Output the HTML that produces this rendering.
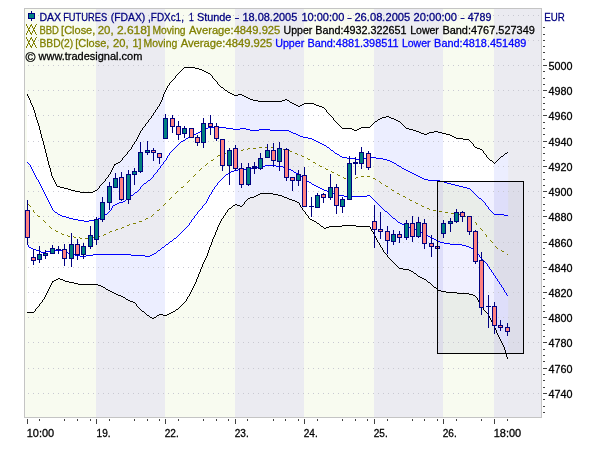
<!DOCTYPE html>
<html lang="de"><head><meta charset="utf-8"><title>DAX FUTURES (FDAX) - tradesignal</title>
<style>html,body{margin:0;padding:0;background:#fff;}body{width:600px;height:450px;overflow:hidden;}svg{display:block;}text{font-family:"Liberation Sans",sans-serif;font-size:11px;stroke-width:0.28px;}</style>
</head><body>
<svg width="600" height="450" viewBox="0 0 600 450">
<rect x="0" y="0" width="600" height="450" fill="#fff"/>
<defs>
<clipPath id="ring"><path d="M27.0 94.0 L33.6 108.0 L38.0 124.0 L42.0 139.0 L44.2 146.0 L49.6 166.0 L52.6 177.0 L57.5 186.0 L66.0 188.0 L72.0 190.4 L82.0 192.4 L91.0 192.4 L96.0 190.0 L103.3 182.7 L110.0 173.3 L114.7 164.7 L120.7 161.3 L124.7 156.7 L130.0 149.3 L135.3 141.3 L141.3 130.7 L150.0 118.0 L160.0 103.0 L165.0 90.0 L170.0 82.0 L180.0 71.0 L184.4 67.6 L192.0 67.6 L200.0 69.6 L210.0 74.4 L220.0 86.0 L228.0 92.4 L234.6 95.0 L240.0 94.4 L244.0 96.0 L248.0 98.6 L254.0 100.0 L260.0 101.0 L280.0 101.0 L286.0 99.4 L292.0 103.0 L298.0 106.4 L304.0 103.4 L312.0 103.4 L317.0 105.0 L323.0 107.0 L330.0 115.0 L336.0 122.0 L342.0 128.0 L350.0 128.4 L355.0 130.4 L361.0 127.6 L369.0 127.0 L374.0 122.4 L380.0 118.4 L387.0 116.4 L392.0 118.4 L400.0 122.0 L406.0 128.0 L414.0 130.0 L425.0 134.4 L430.0 132.4 L436.0 131.0 L443.0 133.6 L448.0 134.4 L456.0 138.0 L468.0 139.6 L471.0 142.0 L475.0 147.6 L481.0 149.0 L488.0 158.0 L494.0 163.0 L500.0 157.0 L507.0 152.0 L508.2 152.0 L508.2 358.4 L507.6 358.4 L504.0 348.0 L500.0 339.0 L496.0 331.0 L492.0 322.0 L488.0 314.0 L484.0 310.0 L480.0 304.0 L476.0 297.0 L472.0 294.4 L464.0 293.0 L448.0 292.0 L438.0 290.0 L432.0 285.0 L426.0 280.0 L420.0 277.0 L410.0 270.4 L406.0 269.0 L399.0 268.0 L390.0 259.0 L384.0 252.0 L378.0 242.4 L372.0 231.0 L369.0 226.4 L358.0 226.0 L352.0 225.6 L330.0 226.4 L324.0 228.0 L316.0 222.0 L310.0 219.0 L303.0 210.0 L298.0 202.0 L290.0 199.0 L280.0 195.0 L270.0 193.6 L260.0 193.6 L255.0 196.0 L248.0 198.0 L241.0 206.0 L235.0 204.4 L228.0 209.0 L220.0 221.0 L212.0 240.0 L207.0 254.0 L202.0 265.0 L196.0 280.0 L190.0 293.0 L185.0 301.6 L178.0 308.0 L172.0 312.4 L165.0 315.0 L159.0 314.4 L153.0 318.0 L150.0 317.0 L146.0 314.4 L139.0 308.0 L134.0 302.4 L128.0 300.0 L122.0 296.0 L116.0 294.4 L108.0 290.4 L102.0 286.0 L96.0 284.4 L80.0 284.0 L66.0 281.6 L58.0 278.4 L52.0 281.0 L44.0 298.0 L37.0 307.0 L33.0 312.4 L27.0 312.4Z M27.0 162.0 L29.0 164.5 L32.0 169.3 L37.3 179.3 L40.0 184.5 L51.0 207.0 L54.0 211.0 L60.0 215.0 L70.0 218.0 L80.0 220.6 L86.0 221.0 L96.0 219.0 L104.0 215.0 L108.0 212.0 L111.3 209.3 L113.3 205.5 L117.3 203.2 L120.0 202.7 L124.0 201.0 L130.0 196.5 L138.0 190.0 L143.3 184.7 L150.0 179.3 L156.7 172.7 L162.0 164.7 L165.0 160.0 L170.0 152.0 L180.0 142.0 L190.0 136.0 L200.0 131.0 L208.0 127.6 L220.0 127.0 L230.0 128.3 L235.3 129.3 L243.3 128.3 L252.7 130.0 L264.7 129.0 L274.0 130.4 L287.3 130.4 L294.0 133.3 L300.0 136.0 L310.0 138.6 L318.0 142.4 L326.0 146.0 L334.0 152.0 L342.0 157.6 L350.0 158.0 L358.0 159.0 L364.0 158.0 L370.0 157.4 L380.0 158.0 L388.0 160.0 L396.0 164.0 L404.0 169.0 L414.0 174.4 L424.0 179.0 L430.0 180.4 L438.0 180.6 L448.0 183.0 L460.0 186.0 L469.0 188.4 L476.0 195.0 L484.0 202.0 L489.0 209.0 L494.0 214.0 L500.0 214.4 L507.0 215.6 L508.2 215.6 L508.2 295.0 L507.0 295.0 L500.0 284.0 L492.0 272.0 L486.0 263.0 L480.0 257.0 L475.0 250.0 L470.0 247.0 L460.0 244.4 L452.0 244.0 L440.0 242.0 L432.0 238.0 L420.0 231.0 L410.0 227.0 L402.0 224.4 L398.0 222.0 L390.0 215.0 L382.0 208.0 L374.0 200.0 L369.0 195.0 L364.0 196.0 L358.0 196.4 L346.0 196.4 L340.0 195.0 L330.0 192.0 L322.0 189.0 L314.0 185.0 L306.0 180.0 L298.0 174.0 L288.0 168.0 L280.0 166.0 L270.0 165.4 L258.0 166.0 L254.0 168.0 L240.0 169.0 L231.0 171.6 L225.0 175.5 L220.0 180.0 L215.0 186.5 L210.0 194.5 L205.0 203.0 L200.0 209.5 L195.0 215.0 L188.0 225.0 L176.0 237.0 L165.0 245.0 L153.0 254.4 L148.0 256.0 L140.0 255.0 L120.0 254.0 L110.0 254.4 L96.0 254.6 L89.3 255.3 L82.7 256.5 L76.0 255.0 L68.0 253.5 L64.0 251.0 L60.0 250.0 L52.0 250.3 L48.0 251.3 L42.7 252.0 L37.3 250.8 L33.3 249.3 L29.3 247.0 L27.0 243.0Z" clip-rule="evenodd"/></clipPath>
<clipPath id="plot"><rect x="25" y="9" width="516" height="408"/></clipPath>
<clipPath id="box"><rect x="438" y="182" width="85" height="171"/></clipPath>
</defs>
<g shape-rendering="crispEdges">
<rect x="25" y="9" width="71" height="408" fill="#f8fbf0"/>
<rect x="96" y="9" width="69" height="408" fill="#ebebf1"/>
<rect x="165" y="9" width="70" height="408" fill="#f8fbf0"/>
<rect x="235" y="9" width="69" height="408" fill="#ebebf1"/>
<rect x="304" y="9" width="70" height="408" fill="#f8fbf0"/>
<rect x="374" y="9" width="69" height="408" fill="#ebebf1"/>
<rect x="443" y="9" width="51" height="408" fill="#f8fbf0"/>
<rect x="494" y="9" width="47" height="408" fill="#ebebf1"/>
</g>
<g clip-path="url(#ring)" shape-rendering="crispEdges">
<rect x="25" y="9" width="71" height="408" fill="#ffffff"/>
<rect x="96" y="9" width="69" height="408" fill="#eceeff"/>
<rect x="165" y="9" width="70" height="408" fill="#ffffff"/>
<rect x="235" y="9" width="69" height="408" fill="#eceeff"/>
<rect x="304" y="9" width="70" height="408" fill="#ffffff"/>
<rect x="374" y="9" width="69" height="408" fill="#eceeff"/>
<rect x="443" y="9" width="51" height="408" fill="#ffffff"/>
<rect x="494" y="9" width="47" height="408" fill="#eceeff"/>
</g>
<g clip-path="url(#box)" shape-rendering="crispEdges">
<rect x="25" y="9" width="71" height="408" fill="#e9ede9"/>
<rect x="96" y="9" width="69" height="408" fill="#dddde9"/>
<rect x="165" y="9" width="70" height="408" fill="#e9ede9"/>
<rect x="235" y="9" width="69" height="408" fill="#dddde9"/>
<rect x="304" y="9" width="70" height="408" fill="#e9ede9"/>
<rect x="374" y="9" width="69" height="408" fill="#dddde9"/>
<rect x="443" y="9" width="51" height="408" fill="#e9ede9"/>
<rect x="494" y="9" width="47" height="408" fill="#dddde9"/>
<g clip-path="url(#ring)">
<rect x="25" y="9" width="71" height="408" fill="#f0f0ff"/>
<rect x="96" y="9" width="69" height="408" fill="#dedefa"/>
<rect x="165" y="9" width="70" height="408" fill="#f0f0ff"/>
<rect x="235" y="9" width="69" height="408" fill="#dedefa"/>
<rect x="304" y="9" width="70" height="408" fill="#f0f0ff"/>
<rect x="374" y="9" width="69" height="408" fill="#dedefa"/>
<rect x="443" y="9" width="51" height="408" fill="#f0f0ff"/>
<rect x="494" y="9" width="47" height="408" fill="#dedefa"/>
</g></g>
<g stroke="#c9c9d2" stroke-width="1" stroke-dasharray="1 4" shape-rendering="crispEdges">
<line x1="28" y1="393.5" x2="541" y2="393.5"/>
<line x1="28" y1="368.5" x2="541" y2="368.5"/>
<line x1="28" y1="342.5" x2="541" y2="342.5"/>
<line x1="28" y1="317.5" x2="541" y2="317.5"/>
<line x1="28" y1="292.5" x2="541" y2="292.5"/>
<line x1="28" y1="267.5" x2="541" y2="267.5"/>
<line x1="28" y1="242.5" x2="541" y2="242.5"/>
<line x1="28" y1="216.5" x2="541" y2="216.5"/>
<line x1="28" y1="191.5" x2="541" y2="191.5"/>
<line x1="28" y1="166.5" x2="541" y2="166.5"/>
<line x1="28" y1="141.5" x2="541" y2="141.5"/>
<line x1="28" y1="115.5" x2="541" y2="115.5"/>
<line x1="28" y1="90.5" x2="541" y2="90.5"/>
<line x1="28" y1="65.5" x2="541" y2="65.5"/>
<line x1="28" y1="40.5" x2="541" y2="40.5"/>
<line x1="28" y1="15.5" x2="541" y2="15.5"/>
</g>
<g fill="none" stroke="#c4c4c4" shape-rendering="crispEdges"><rect x="24.5" y="8.5" width="517" height="409"/></g>
<g shape-rendering="crispEdges" stroke="none">
<path fill="#000" d="M378 119h2v1h-2zM394 119h2v1h-2zM292 103h2v1h-2zM304 103h10v1h-10zM354 130h3v1h-3zM413 130h3v1h-3zM116 163h2v1h-2zM80 192h13v1h-13zM64 188h4v1h-4zM490 160h2v1h-2zM250 99h3v1h-3zM285 99h2v1h-2zM375 121h2v1h-2zM398 121h2v1h-2zM342 128h10v1h-10zM359 128h2v1h-2zM406 128h3v1h-3zM294 104h2v1h-2zM302 104h2v1h-2zM314 104h2v1h-2zM232 94h2v1h-2zM238 94h4v1h-4zM452 136h2v1h-2zM456 138h7v1h-7zM419 132h2v1h-2zM429 132h5v1h-5zM438 132h4v1h-4zM184 67h11v1h-11zM118 162h2v1h-2zM75 191h5v1h-5zM93 191h2v1h-2zM463 139h6v1h-6zM195 68h4v1h-4zM361 127h9v1h-9zM68 189h3v1h-3zM416 131h3v1h-3zM434 131h4v1h-4zM253 100h5v1h-5zM282 100h3v1h-3zM287 100h2v1h-2zM501 156h2v1h-2zM352 129h2v1h-2zM357 129h2v1h-2zM409 129h4v1h-4zM71 190h4v1h-4zM95 190h2v1h-2zM234 95h4v1h-4zM242 95h2v1h-2zM380 118h2v1h-2zM391 118h3v1h-3zM258 101h24v1h-24zM206 72h2v1h-2zM230 93h2v1h-2zM290 102h2v1h-2zM424 134h3v1h-3zM446 134h4v1h-4zM199 69h3v1h-3zM114 164h2v1h-2zM450 135h2v1h-2zM386 116h3v1h-3zM296 105h2v1h-2zM300 105h2v1h-2zM316 105h3v1h-3zM202 70h2v1h-2zM421 133h3v1h-3zM427 133h2v1h-2zM442 133h4v1h-4zM225 90h2v1h-2zM298 106h2v1h-2zM319 106h3v1h-3zM477 148h3v1h-3zM204 71h2v1h-2zM454 137h2v1h-2zM382 117h4v1h-4zM389 117h2v1h-2zM208 73h2v1h-2zM480 149h2v1h-2zM244 96h2v1h-2zM322 107h2v1h-2zM60 187h4v1h-4zM57 186h3v1h-3zM475 147h2v1h-2zM246 97h2v1h-2zM248 98h2v1h-2zM228 92h2v1h-2zM396 120h2v1h-2zM505 153h2v1h-2zM221 87h2v1h-2zM404 126h1v1h-1zM46 153h1v4h-1zM164 92h1v2h-1zM50 168h1v4h-1zM36 117h1v3h-1zM149 119h1v1h-1zM485 154h1v1h-1zM52 176h1v2h-1zM105 179h1v2h-1zM107 177h1v1h-1zM33 107h1v3h-1zM108 175h1v2h-1zM330 115h1v1h-1zM35 113h1v4h-1zM159 104h1v2h-1zM324 108h1v1h-1zM48 161h1v4h-1zM405 127h1v1h-1zM372 124h1v1h-1zM42 138h1v3h-1zM145 124h1v2h-1zM146 123h1v1h-1zM125 155h1v1h-1zM103 182h1v1h-1zM401 123h1v1h-1zM155 110h1v2h-1zM157 107h1v2h-1zM106 178h1v1h-1zM137 137h1v2h-1zM160 102h1v2h-1zM40 130h1v4h-1zM158 106h1v1h-1zM44 145h1v4h-1zM370 126h1v1h-1zM162 97h1v3h-1zM121 160h1v1h-1zM142 128h1v2h-1zM123 157h1v1h-1zM134 142h1v2h-1zM482 150h1v1h-1zM45 149h1v4h-1zM29 98h1v2h-1zM474 146h1v1h-1zM171 81h1v1h-1zM214 79h1v1h-1zM31 103h1v2h-1zM120 161h1v1h-1zM492 161h1v1h-1zM41 134h1v4h-1zM43 141h1v4h-1zM167 86h1v2h-1zM169 83h1v2h-1zM170 82h1v1h-1zM493 162h1v1h-1zM469 140h1v1h-1zM486 155h1v2h-1zM113 166h1v2h-1zM99 186h1v2h-1zM483 151h1v2h-1zM138 135h1v2h-1zM140 131h1v2h-1zM49 165h1v3h-1zM215 80h1v1h-1zM129 150h1v1h-1zM152 115h1v1h-1zM150 118h1v1h-1zM132 145h1v2h-1zM130 149h1v1h-1zM153 113h1v2h-1zM131 147h1v2h-1zM110 172h1v2h-1zM55 182h1v2h-1zM216 81h1v1h-1zM487 157h1v1h-1zM210 74h1v1h-1zM37 120h1v3h-1zM148 120h1v2h-1zM128 151h1v1h-1zM151 116h1v2h-1zM212 76h1v2h-1zM166 88h1v2h-1zM38 123h1v3h-1zM109 174h1v1h-1zM124 156h1v1h-1zM176 75h1v1h-1zM127 152h1v2h-1zM27 94h1v2h-1zM34 110h1v3h-1zM53 178h1v2h-1zM136 139h1v2h-1zM30 100h1v3h-1zM165 90h1v2h-1zM325 109h1v1h-1zM217 82h1v2h-1zM122 158h1v2h-1zM175 76h1v2h-1zM182 69h1v1h-1zM213 78h1v1h-1zM223 88h1v1h-1zM28 96h1v2h-1zM39 126h1v4h-1zM163 94h1v3h-1zM473 144h1v2h-1zM56 184h1v2h-1zM326 110h1v2h-1zM100 185h1v1h-1zM32 105h1v2h-1zM51 172h1v4h-1zM112 168h1v2h-1zM114 165h1v1h-1zM374 122h1v1h-1zM224 89h1v1h-1zM329 114h1v1h-1zM470 141h1v1h-1zM47 157h1v4h-1zM54 180h1v2h-1zM139 133h1v2h-1zM144 126h1v1h-1zM336 122h1v1h-1zM154 112h1v1h-1zM500 157h1v1h-1zM289 101h1v1h-1zM498 159h1v1h-1zM488 158h1v1h-1zM499 158h1v1h-1zM504 154h1v1h-1zM111 170h1v2h-1zM471 142h1v1h-1zM183 68h1v1h-1zM211 75h1v1h-1zM402 124h1v1h-1zM489 159h1v1h-1zM472 143h1v1h-1zM161 100h1v2h-1zM181 70h1v1h-1zM333 118h1v2h-1zM339 125h1v1h-1zM334 120h1v1h-1zM335 121h1v1h-1zM373 123h1v1h-1zM126 154h1v1h-1zM179 72h1v1h-1zM147 122h1v1h-1zM340 126h1v1h-1zM141 130h1v1h-1zM143 127h1v1h-1zM177 74h1v1h-1zM377 120h1v1h-1zM400 122h1v1h-1zM174 78h1v1h-1zM218 84h1v1h-1zM133 144h1v1h-1zM135 141h1v1h-1zM156 109h1v1h-1zM341 127h1v1h-1zM104 181h1v1h-1zM173 79h1v1h-1zM219 85h1v1h-1zM371 125h1v1h-1zM337 123h1v1h-1zM331 116h1v1h-1zM503 155h1v1h-1zM102 183h1v1h-1zM172 80h1v1h-1zM327 112h1v1h-1zM332 117h1v1h-1zM98 188h1v1h-1zM507 152h1v1h-1zM101 184h1v1h-1zM168 85h1v1h-1zM496 161h1v1h-1zM497 160h1v1h-1zM328 113h1v1h-1zM220 86h1v1h-1zM338 124h1v1h-1zM403 125h1v1h-1zM97 189h1v1h-1zM484 153h1v1h-1zM495 162h1v1h-1zM227 91h1v1h-1zM180 71h1v1h-1zM494 163h1v1h-1zM178 73h1v1h-1z"/>
<path fill="#000" d="M114 293h2v1h-2zM457 293h12v1h-12zM56 279h2v1h-2zM60 279h3v1h-3zM424 279h2v1h-2zM159 314h4v1h-4zM167 314h2v1h-2zM229 208h2v1h-2zM342 225h14v1h-14zM418 276h2v1h-2zM106 289h2v1h-2zM116 294h2v1h-2zM469 294h4v1h-4zM256 195h2v1h-2zM278 195h4v1h-4zM52 281h2v1h-2zM65 281h4v1h-4zM27 312h7v1h-7zM171 312h2v1h-2zM142 311h2v1h-2zM173 311h2v1h-2zM118 295h3v1h-3zM473 295h2v1h-2zM147 315h2v1h-2zM157 315h2v1h-2zM163 315h4v1h-4zM150 317h2v1h-2zM154 317h2v1h-2zM240 206h2v1h-2zM78 284h20v1h-20zM321 226h2v1h-2zM329 226h13v1h-13zM356 226h14v1h-14zM103 287h2v1h-2zM434 287h2v1h-2zM130 301h3v1h-3zM403 269h6v1h-6zM133 302h2v1h-2zM110 291h2v1h-2zM441 291h5v1h-5zM112 292h2v1h-2zM446 292h11v1h-11zM260 193h13v1h-13zM54 280h2v1h-2zM63 280h2v1h-2zM409 270h2v1h-2zM310 219h2v1h-2zM250 197h4v1h-4zM284 197h3v1h-3zM297 202h2v1h-2zM399 268h4v1h-4zM326 227h3v1h-3zM312 220h2v1h-2zM58 278h2v1h-2zM422 278h2v1h-2zM98 285h3v1h-3zM101 286h2v1h-2zM314 221h2v1h-2zM258 194h2v1h-2zM273 194h5v1h-5zM233 205h2v1h-2zM237 205h3v1h-3zM69 282h5v1h-5zM428 282h2v1h-2zM108 290h2v1h-2zM438 290h3v1h-3zM411 271h2v1h-2zM126 299h2v1h-2zM289 199h3v1h-3zM254 196h2v1h-2zM282 196h2v1h-2zM235 204h2v1h-2zM123 297h2v1h-2zM176 309h2v1h-2zM169 313h2v1h-2zM248 198h2v1h-2zM287 198h2v1h-2zM121 296h2v1h-2zM74 283h4v1h-4zM292 200h3v1h-3zM414 273h2v1h-2zM152 318h2v1h-2zM324 228h2v1h-2zM295 201h2v1h-2zM317 223h2v1h-2zM128 300h2v1h-2zM420 277h2v1h-2zM300 205h1v2h-1zM208 250h1v3h-1zM202 264h1v3h-1zM489 316h1v2h-1zM475 296h1v1h-1zM197 277h1v2h-1zM141 310h1v1h-1zM483 308h1v2h-1zM201 267h1v2h-1zM372 231h1v1h-1zM207 253h1v3h-1zM135 303h1v1h-1zM494 326h1v2h-1zM49 287h1v2h-1zM373 232h1v2h-1zM506 354h1v3h-1zM476 297h1v1h-1zM496 330h1v3h-1zM417 275h1v1h-1zM216 230h1v2h-1zM436 288h1v1h-1zM211 242h1v3h-1zM217 227h1v3h-1zM302 208h1v2h-1zM498 335h1v2h-1zM136 304h1v2h-1zM505 350h1v4h-1zM223 216h1v2h-1zM388 257h1v1h-1zM156 316h1v1h-1zM188 296h1v1h-1zM200 269h1v3h-1zM195 282h1v2h-1zM437 289h1v1h-1zM492 322h1v2h-1zM187 297h1v2h-1zM189 294h1v2h-1zM426 280h1v1h-1zM485 311h1v1h-1zM209 247h1v3h-1zM499 337h1v2h-1zM320 225h1v1h-1zM45 295h1v2h-1zM486 312h1v1h-1zM51 283h1v2h-1zM50 285h1v2h-1zM52 282h1v1h-1zM377 240h1v2h-1zM215 232h1v3h-1zM503 345h1v2h-1zM210 245h1v2h-1zM219 223h1v2h-1zM395 264h1v1h-1zM307 215h1v1h-1zM481 305h1v2h-1zM374 234h1v2h-1zM231 207h1v1h-1zM205 258h1v2h-1zM193 286h1v2h-1zM199 272h1v2h-1zM391 260h1v1h-1zM490 318h1v2h-1zM370 227h1v2h-1zM309 218h1v1h-1zM385 253h1v1h-1zM382 248h1v2h-1zM497 333h1v2h-1zM185 301h1v1h-1zM387 255h1v2h-1zM375 236h1v2h-1zM501 341h1v2h-1zM212 239h1v3h-1zM198 274h1v3h-1zM213 237h1v2h-1zM392 261h1v1h-1zM504 347h1v3h-1zM144 312h1v1h-1zM386 254h1v1h-1zM41 302h1v1h-1zM42 300h1v2h-1zM479 302h1v2h-1zM44 297h1v2h-1zM488 314h1v2h-1zM48 289h1v2h-1zM371 229h1v2h-1zM301 207h1v1h-1zM145 313h1v1h-1zM484 310h1v1h-1zM38 306h1v1h-1zM40 303h1v1h-1zM39 304h1v2h-1zM247 199h1v1h-1zM495 328h1v2h-1zM196 279h1v3h-1zM190 292h1v2h-1zM203 262h1v2h-1zM507 357h1v2h-1zM393 262h1v1h-1zM398 267h1v1h-1zM34 311h1v1h-1zM36 308h1v1h-1zM227 210h1v2h-1zM225 213h1v2h-1zM305 212h1v2h-1zM37 307h1v1h-1zM394 263h1v1h-1zM380 245h1v2h-1zM245 201h1v1h-1zM46 293h1v2h-1zM246 200h1v1h-1zM389 258h1v1h-1zM383 250h1v2h-1zM306 214h1v1h-1zM221 219h1v2h-1zM146 314h1v1h-1zM224 215h1v1h-1zM35 309h1v2h-1zM493 324h1v2h-1zM242 205h1v1h-1zM244 202h1v2h-1zM47 291h1v2h-1zM384 252h1v1h-1zM376 238h1v2h-1zM430 283h1v1h-1zM431 284h1v1h-1zM186 299h1v2h-1zM502 343h1v2h-1zM204 260h1v2h-1zM206 256h1v2h-1zM477 298h1v2h-1zM413 272h1v1h-1zM432 285h1v1h-1zM396 265h1v1h-1zM299 203h1v2h-1zM308 216h1v2h-1zM482 307h1v1h-1zM220 221h1v2h-1zM214 235h1v2h-1zM500 339h1v2h-1zM192 288h1v2h-1zM194 284h1v2h-1zM43 299h1v1h-1zM303 210h1v1h-1zM478 300h1v2h-1zM184 302h1v1h-1zM433 286h1v1h-1zM397 266h1v1h-1zM316 222h1v1h-1zM125 298h1v1h-1zM491 320h1v2h-1zM182 304h1v1h-1zM323 227h1v1h-1zM218 225h1v2h-1zM379 243h1v2h-1zM105 288h1v1h-1zM191 290h1v2h-1zM139 308h1v1h-1zM140 309h1v1h-1zM416 274h1v1h-1zM480 304h1v1h-1zM137 306h1v1h-1zM183 303h1v1h-1zM319 224h1v1h-1zM222 218h1v1h-1zM304 211h1v1h-1zM243 204h1v1h-1zM181 305h1v1h-1zM149 316h1v1h-1zM138 307h1v1h-1zM427 281h1v1h-1zM226 212h1v1h-1zM228 209h1v1h-1zM381 247h1v1h-1zM390 259h1v1h-1zM175 310h1v1h-1zM180 306h1v1h-1zM378 242h1v1h-1zM232 206h1v1h-1zM178 308h1v1h-1zM179 307h1v1h-1zM487 313h1v1h-1z"/>
<path fill="#0000ff" d="M60 215h2v1h-2zM504 215h4v1h-4zM459 186h4v1h-4zM451 184h4v1h-4zM202 130h2v1h-2zM250 130h9v1h-9zM270 130h19v1h-19zM55 212h2v1h-2zM204 129h2v1h-2zM233 129h7v1h-7zM246 129h4v1h-4zM259 129h11v1h-11zM73 219h5v1h-5zM94 219h4v1h-4zM347 158h8v1h-8zM362 158h6v1h-6zM376 158h7v1h-7zM455 185h4v1h-4zM84 221h5v1h-5zM424 179h4v1h-4zM416 175h2v1h-2zM188 137h2v1h-2zM303 137h5v1h-5zM420 177h2v1h-2zM135 192h2v1h-2zM412 173h2v1h-2zM208 127h18v1h-18zM422 178h2v1h-2zM312 139h2v1h-2zM206 128h2v1h-2zM226 128h7v1h-7zM240 128h6v1h-6zM66 217h3v1h-3zM100 217h2v1h-2zM183 140h2v1h-2zM314 140h2v1h-2zM131 195h2v1h-2zM78 220h6v1h-6zM89 220h5v1h-5zM410 172h2v1h-2zM123 201h2v1h-2zM58 214h2v1h-2zM105 214h2v1h-2zM494 214h10v1h-10zM119 202h4v1h-4zM186 138h2v1h-2zM308 138h4v1h-4zM355 159h7v1h-7zM383 159h4v1h-4zM414 174h2v1h-2zM148 180h2v1h-2zM428 180h12v1h-12zM144 183h2v1h-2zM447 183h4v1h-4zM340 156h2v1h-2zM418 176h2v1h-2zM181 141h2v1h-2zM316 141h2v1h-2zM322 144h2v1h-2zM387 160h3v1h-3zM404 169h2v1h-2zM397 165h2v1h-2zM324 145h2v1h-2zM399 166h2v1h-2zM406 170h2v1h-2zM440 181h4v1h-4zM463 187h4v1h-4zM335 153h2v1h-2zM318 142h2v1h-2zM62 216h4v1h-4zM102 216h2v1h-2zM444 182h3v1h-3zM320 143h2v1h-2zM467 188h3v1h-3zM479 198h2v1h-2zM342 157h5v1h-5zM368 157h8v1h-8zM394 163h2v1h-2zM113 205h2v1h-2zM69 218h4v1h-4zM98 218h2v1h-2zM200 131h2v1h-2zM289 131h2v1h-2zM192 135h2v1h-2zM298 135h2v1h-2zM126 199h2v1h-2zM392 162h2v1h-2zM196 133h2v1h-2zM293 133h3v1h-3zM331 150h2v1h-2zM198 132h2v1h-2zM291 132h2v1h-2zM402 168h2v1h-2zM117 203h2v1h-2zM190 136h2v1h-2zM300 136h3v1h-3zM194 134h2v1h-2zM296 134h2v1h-2zM327 147h2v1h-2zM390 161h2v1h-2zM408 171h2v1h-2zM115 204h2v1h-2zM337 154h2v1h-2zM493 213h1v1h-1zM487 206h1v1h-1zM104 215h1v1h-1zM41 186h1v2h-1zM47 198h1v2h-1zM488 207h1v2h-1zM38 180h1v2h-1zM108 212h1v1h-1zM157 170h1v2h-1zM48 200h1v2h-1zM160 166h1v2h-1zM167 156h1v2h-1zM169 153h1v2h-1zM172 150h1v1h-1zM45 194h1v2h-1zM156 172h1v1h-1zM166 158h1v2h-1zM31 167h1v2h-1zM168 155h1v1h-1zM46 196h1v2h-1zM52 208h1v2h-1zM152 177h1v1h-1zM141 186h1v1h-1zM142 185h1v1h-1zM53 210h1v1h-1zM42 188h1v2h-1zM329 148h1v1h-1zM140 187h1v2h-1zM29 164h1v1h-1zM146 182h1v1h-1zM473 192h1v1h-1zM43 190h1v2h-1zM176 146h1v1h-1zM112 206h1v2h-1zM330 149h1v1h-1zM49 202h1v2h-1zM36 177h1v2h-1zM185 139h1v1h-1zM482 200h1v1h-1zM174 148h1v1h-1zM54 211h1v1h-1zM175 147h1v1h-1zM109 211h1v1h-1zM111 208h1v2h-1zM40 184h1v2h-1zM173 149h1v1h-1zM107 213h1v1h-1zM34 173h1v2h-1zM37 179h1v1h-1zM33 171h1v2h-1zM483 201h1v1h-1zM125 200h1v1h-1zM471 190h1v1h-1zM51 206h1v2h-1zM44 192h1v2h-1zM484 202h1v1h-1zM158 169h1v1h-1zM477 196h1v1h-1zM30 165h1v2h-1zM170 152h1v1h-1zM154 174h1v1h-1zM32 169h1v2h-1zM339 155h1v1h-1zM150 179h1v1h-1zM153 175h1v2h-1zM39 182h1v2h-1zM485 203h1v2h-1zM478 197h1v1h-1zM333 151h1v1h-1zM396 164h1v1h-1zM474 193h1v1h-1zM35 175h1v2h-1zM470 189h1v1h-1zM50 204h1v2h-1zM490 210h1v1h-1zM162 164h1v1h-1zM164 161h1v1h-1zM163 162h1v2h-1zM165 160h1v1h-1zM491 211h1v1h-1zM475 194h1v1h-1zM159 168h1v1h-1zM161 165h1v1h-1zM130 196h1v1h-1zM129 197h1v1h-1zM171 151h1v1h-1zM476 195h1v1h-1zM179 143h1v1h-1zM139 189h1v1h-1zM155 173h1v1h-1zM128 198h1v1h-1zM472 191h1v1h-1zM134 193h1v1h-1zM492 212h1v1h-1zM177 145h1v1h-1zM401 167h1v1h-1zM326 146h1v1h-1zM57 213h1v1h-1zM489 209h1v1h-1zM334 152h1v1h-1zM27 162h1v1h-1zM143 184h1v1h-1zM180 142h1v1h-1zM147 181h1v1h-1zM28 163h1v1h-1zM178 144h1v1h-1zM486 205h1v1h-1zM151 178h1v1h-1zM133 194h1v1h-1zM138 190h1v1h-1zM110 210h1v1h-1zM481 199h1v1h-1zM137 191h1v1h-1z"/>
<path fill="#0000ff" d="M71 254h4v1h-4zM93 254h38v1h-38zM152 254h2v1h-2zM75 255h5v1h-5zM86 255h7v1h-7zM131 255h14v1h-14zM150 255h2v1h-2zM414 229h3v1h-3zM166 244h2v1h-2zM450 244h12v1h-12zM344 196h23v1h-23zM29 247h2v1h-2zM162 247h2v1h-2zM469 247h2v1h-2zM41 252h5v1h-5zM66 252h2v1h-2zM248 168h8v1h-8zM287 168h2v1h-2zM407 226h2v1h-2zM31 248h2v1h-2zM471 248h2v1h-2zM36 250h3v1h-3zM51 250h12v1h-12zM158 250h2v1h-2zM226 174h2v1h-2zM33 249h3v1h-3zM473 249h2v1h-2zM299 175h2v1h-2zM409 227h3v1h-3zM39 251h2v1h-2zM46 251h5v1h-5zM63 251h3v1h-3zM425 234h2v1h-2zM258 166h7v1h-7zM276 166h7v1h-7zM329 192h3v1h-3zM80 256h6v1h-6zM145 256h5v1h-5zM421 232h2v1h-2zM170 241h2v1h-2zM438 241h2v1h-2zM339 195h5v1h-5zM367 195h3v1h-3zM238 169h10v1h-10zM289 169h2v1h-2zM174 238h2v1h-2zM432 238h2v1h-2zM324 190h3v1h-3zM256 167h2v1h-2zM283 167h4v1h-4zM417 230h2v1h-2zM444 243h6v1h-6zM303 178h2v1h-2zM398 222h2v1h-2zM320 188h2v1h-2zM234 170h4v1h-4zM291 170h2v1h-2zM419 231h2v1h-2zM229 172h2v1h-2zM294 172h2v1h-2zM466 246h3v1h-3zM332 193h4v1h-4zM385 211h2v1h-2zM336 194h3v1h-3zM312 184h2v1h-2zM327 191h2v1h-2zM462 245h4v1h-4zM318 187h2v1h-2zM265 165h11v1h-11zM402 224h2v1h-2zM440 242h4v1h-4zM307 181h2v1h-2zM309 182h2v1h-2zM434 239h2v1h-2zM68 253h3v1h-3zM154 253h2v1h-2zM436 240h2v1h-2zM428 236h2v1h-2zM400 223h2v1h-2zM404 225h3v1h-3zM231 171h3v1h-3zM423 233h2v1h-2zM412 228h2v1h-2zM296 173h2v1h-2zM314 185h2v1h-2zM393 218h2v1h-2zM322 189h2v1h-2zM316 186h2v1h-2zM430 237h2v1h-2zM475 250h1v1h-1zM207 199h1v2h-1zM156 252h1v1h-1zM217 183h1v2h-1zM298 174h1v1h-1zM495 276h1v2h-1zM503 288h1v2h-1zM27 243h1v2h-1zM160 249h1v1h-1zM506 293h1v2h-1zM481 258h1v1h-1zM188 225h1v1h-1zM191 220h1v2h-1zM499 282h1v2h-1zM306 180h1v1h-1zM501 285h1v2h-1zM487 264h1v2h-1zM186 227h1v1h-1zM396 220h1v1h-1zM187 226h1v1h-1zM189 223h1v2h-1zM504 290h1v2h-1zM28 245h1v2h-1zM488 266h1v1h-1zM185 228h1v1h-1zM209 195h1v2h-1zM211 192h1v2h-1zM493 273h1v2h-1zM397 221h1v1h-1zM390 215h1v1h-1zM176 237h1v1h-1zM157 251h1v1h-1zM479 255h1v2h-1zM225 175h1v1h-1zM497 279h1v2h-1zM374 200h1v1h-1zM476 251h1v2h-1zM498 281h1v1h-1zM161 248h1v1h-1zM197 212h1v2h-1zM224 176h1v1h-1zM370 196h1v1h-1zM387 212h1v1h-1zM208 197h1v2h-1zM311 183h1v1h-1zM193 218h1v1h-1zM194 216h1v2h-1zM222 178h1v1h-1zM165 245h1v1h-1zM480 257h1v1h-1zM502 287h1v1h-1zM305 179h1v1h-1zM190 222h1v1h-1zM486 263h1v1h-1zM507 295h1v1h-1zM371 197h1v1h-1zM388 213h1v1h-1zM381 207h1v1h-1zM482 259h1v1h-1zM212 190h1v2h-1zM214 187h1v2h-1zM491 270h1v2h-1zM377 203h1v1h-1zM372 198h1v1h-1zM389 214h1v1h-1zM206 201h1v2h-1zM477 253h1v1h-1zM373 199h1v1h-1zM202 206h1v2h-1zM489 267h1v2h-1zM483 260h1v1h-1zM492 272h1v1h-1zM183 230h1v1h-1zM378 204h1v1h-1zM184 229h1v1h-1zM484 261h1v1h-1zM478 254h1v1h-1zM391 216h1v1h-1zM181 232h1v1h-1zM182 231h1v1h-1zM379 205h1v1h-1zM223 177h1v1h-1zM302 177h1v1h-1zM228 173h1v1h-1zM375 201h1v1h-1zM392 217h1v1h-1zM164 246h1v1h-1zM169 242h1v1h-1zM196 214h1v1h-1zM198 211h1v1h-1zM485 262h1v1h-1zM210 194h1v1h-1zM168 243h1v1h-1zM192 219h1v1h-1zM220 180h1v1h-1zM376 202h1v1h-1zM172 240h1v1h-1zM490 269h1v1h-1zM382 208h1v1h-1zM218 182h1v1h-1zM216 185h1v1h-1zM213 189h1v1h-1zM215 186h1v1h-1zM494 275h1v1h-1zM204 204h1v1h-1zM205 203h1v1h-1zM496 278h1v1h-1zM383 209h1v1h-1zM200 209h1v1h-1zM201 208h1v1h-1zM301 176h1v1h-1zM203 205h1v1h-1zM500 284h1v1h-1zM384 210h1v1h-1zM395 219h1v1h-1zM199 210h1v1h-1zM293 171h1v1h-1zM380 206h1v1h-1zM505 292h1v1h-1zM427 235h1v1h-1zM180 233h1v1h-1zM195 215h1v1h-1zM221 179h1v1h-1zM173 239h1v1h-1zM178 235h1v1h-1zM179 234h1v1h-1zM219 181h1v1h-1zM177 236h1v1h-1z"/>
<path fill="#808000" d="M392 190h2v1h-2zM397 193h2v1h-2zM344 178h2v1h-2zM349 178h3v1h-3zM373 178h2v1h-2zM116 229h2v1h-2zM146 218h2v1h-2zM38 216h2v1h-2zM464 216h2v1h-2zM302 156h2v1h-2zM361 176h3v1h-3zM367 176h3v1h-3zM439 211h3v1h-3zM68 236h2v1h-2zM98 236h2v1h-2zM308 159h2v1h-2zM223 153h3v1h-3zM295 153h2v1h-2zM218 155h2v1h-2zM283 149h3v1h-3zM502 251h2v1h-2zM386 186h2v1h-2zM139 221h3v1h-3zM259 147h3v1h-3zM265 147h3v1h-3zM271 147h3v1h-3zM157 210h2v1h-2zM433 210h3v1h-3zM56 231h2v1h-2zM110 231h2v1h-2zM445 212h3v1h-3zM74 237h2v1h-2zM92 237h2v1h-2zM122 227h2v1h-2zM410 200h2v1h-2zM248 148h2v1h-2zM253 148h3v1h-3zM277 148h3v1h-3zM457 214h3v1h-3zM403 196h2v1h-2zM451 213h3v1h-3zM181 187h2v1h-2zM332 172h2v1h-2zM427 208h2v1h-2zM236 150h2v1h-2zM241 150h2v1h-2zM133 223h3v1h-3zM80 238h2v1h-2zM85 238h3v1h-3zM127 225h2v1h-2zM62 234h2v1h-2zM104 234h2v1h-2zM229 151h3v1h-3zM290 151h2v1h-2zM470 219h2v1h-2zM211 160h2v1h-2zM326 169h2v1h-2zM356 177h2v1h-2zM416 203h2v1h-2zM338 175h2v1h-2zM320 166h2v1h-2zM313 162h2v1h-2zM422 206h2v1h-2zM480 228h1v1h-1zM43 220h1v1h-1zM175 193h1v1h-1zM481 229h1v1h-1zM476 223h1v2h-1zM469 218h1v1h-1zM217 156h1v1h-1zM495 246h1v1h-1zM207 163h1v1h-1zM28 204h1v1h-1zM385 185h1v1h-1zM73 236h1v1h-1zM379 181h1v1h-1zM482 230h1v1h-1zM109 232h1v1h-1zM301 155h1v1h-1zM67 235h1v1h-1zM206 164h1v1h-1zM29 205h1v1h-1zM44 221h1v1h-1zM307 158h1v1h-1zM45 222h1v1h-1zM163 205h1v1h-1zM375 179h1v1h-1zM51 228h1v1h-1zM247 149h1v1h-1zM121 228h1v1h-1zM507 254h1v1h-1zM153 214h1v1h-1zM391 189h1v1h-1zM355 178h1v1h-1zM289 150h1v1h-1zM475 222h1v1h-1zM151 216h1v1h-1zM55 230h1v1h-1zM429 209h1v1h-1zM421 205h1v1h-1zM235 151h1v1h-1zM496 247h1v1h-1zM490 240h1v1h-1zM380 182h1v1h-1zM200 169h1v1h-1zM201 168h1v1h-1zM171 197h1v1h-1zM49 226h1v1h-1zM486 235h1v2h-1zM37 215h1v1h-1zM337 174h1v1h-1zM199 170h1v1h-1zM169 199h1v1h-1zM33 210h1v2h-1zM50 227h1v1h-1zM170 198h1v1h-1zM205 165h1v1h-1zM497 248h1v1h-1zM409 199h1v1h-1zM492 242h1v1h-1zM188 181h1v1h-1zM325 168h1v1h-1zM159 209h1v1h-1zM145 219h1v1h-1zM501 250h1v1h-1zM152 215h1v1h-1zM115 230h1v1h-1zM187 182h1v1h-1zM405 197h1v1h-1zM297 154h1v1h-1zM491 241h1v1h-1zM319 165h1v1h-1zM177 191h1v1h-1zM103 235h1v1h-1zM34 212h1v1h-1zM415 202h1v1h-1zM213 159h1v1h-1zM195 174h1v1h-1zM315 163h1v1h-1zM79 237h1v1h-1zM193 176h1v1h-1zM194 175h1v1h-1zM164 204h1v1h-1zM165 203h1v1h-1zM331 171h1v1h-1zM91 238h1v1h-1zM243 149h1v1h-1zM30 206h1v1h-1zM381 183h1v1h-1zM183 186h1v1h-1zM129 224h1v1h-1zM61 233h1v1h-1zM485 234h1v1h-1zM399 194h1v1h-1zM189 180h1v1h-1zM176 192h1v1h-1zM463 215h1v1h-1zM97 237h1v1h-1zM343 177h1v1h-1z"/>
</g>
<g shape-rendering="crispEdges">
<rect x="27" y="200" width="1" height="45" fill="#000080"/>
<rect x="25" y="210" width="5" height="28" fill="#000080"/>
<rect x="26" y="211" width="3" height="26" fill="#ff8080"/>
<rect x="33" y="249" width="1" height="16" fill="#000080"/>
<rect x="31" y="257" width="5" height="4" fill="#000080"/>
<rect x="32" y="258" width="3" height="2" fill="#ff8080"/>
<rect x="39" y="246" width="1" height="17" fill="#000080"/>
<rect x="37" y="254" width="5" height="6" fill="#000080"/>
<rect x="38" y="255" width="3" height="4" fill="#008080"/>
<rect x="45" y="250" width="1" height="9" fill="#000080"/>
<rect x="43" y="253" width="5" height="3" fill="#000080"/>
<rect x="44" y="254" width="3" height="1" fill="#008080"/>
<rect x="52" y="245" width="1" height="9" fill="#000080"/>
<rect x="50" y="248" width="5" height="6" fill="#000080"/>
<rect x="51" y="249" width="3" height="4" fill="#008080"/>
<rect x="58" y="246" width="1" height="8" fill="#000080"/>
<rect x="56" y="249" width="5" height="1" fill="#000080"/>
<rect x="64" y="244" width="1" height="22" fill="#000080"/>
<rect x="62" y="249" width="5" height="10" fill="#000080"/>
<rect x="63" y="250" width="3" height="8" fill="#ff8080"/>
<rect x="71" y="233" width="1" height="34" fill="#000080"/>
<rect x="69" y="244" width="5" height="15" fill="#000080"/>
<rect x="70" y="245" width="3" height="13" fill="#008080"/>
<rect x="77" y="239" width="1" height="21" fill="#000080"/>
<rect x="75" y="244" width="5" height="11" fill="#000080"/>
<rect x="76" y="245" width="3" height="9" fill="#ff8080"/>
<rect x="83" y="243" width="1" height="16" fill="#000080"/>
<rect x="81" y="246" width="5" height="9" fill="#000080"/>
<rect x="82" y="247" width="3" height="7" fill="#008080"/>
<rect x="90" y="226" width="1" height="23" fill="#000080"/>
<rect x="88" y="235" width="5" height="12" fill="#000080"/>
<rect x="89" y="236" width="3" height="10" fill="#008080"/>
<rect x="96" y="217" width="1" height="28" fill="#000080"/>
<rect x="94" y="219" width="5" height="21" fill="#000080"/>
<rect x="95" y="220" width="3" height="19" fill="#008080"/>
<rect x="102" y="197" width="1" height="25" fill="#000080"/>
<rect x="100" y="202" width="5" height="18" fill="#000080"/>
<rect x="101" y="203" width="3" height="16" fill="#008080"/>
<rect x="109" y="182" width="1" height="28" fill="#000080"/>
<rect x="107" y="186" width="5" height="17" fill="#000080"/>
<rect x="108" y="187" width="3" height="15" fill="#008080"/>
<rect x="115" y="173" width="1" height="15" fill="#000080"/>
<rect x="113" y="178" width="5" height="10" fill="#000080"/>
<rect x="114" y="179" width="3" height="8" fill="#008080"/>
<rect x="121" y="172" width="1" height="29" fill="#000080"/>
<rect x="119" y="177" width="5" height="23" fill="#000080"/>
<rect x="120" y="178" width="3" height="21" fill="#ff8080"/>
<rect x="128" y="170" width="1" height="34" fill="#000080"/>
<rect x="126" y="174" width="5" height="26" fill="#000080"/>
<rect x="127" y="175" width="3" height="24" fill="#008080"/>
<rect x="134" y="168" width="1" height="17" fill="#000080"/>
<rect x="132" y="171" width="5" height="4" fill="#000080"/>
<rect x="133" y="172" width="3" height="2" fill="#008080"/>
<rect x="140" y="142" width="1" height="31" fill="#000080"/>
<rect x="138" y="152" width="5" height="20" fill="#000080"/>
<rect x="139" y="153" width="3" height="18" fill="#008080"/>
<rect x="147" y="141" width="1" height="14" fill="#000080"/>
<rect x="145" y="150" width="5" height="3" fill="#000080"/>
<rect x="146" y="151" width="3" height="1" fill="#008080"/>
<rect x="153" y="148" width="1" height="13" fill="#000080"/>
<rect x="151" y="150" width="5" height="3" fill="#000080"/>
<rect x="152" y="151" width="3" height="1" fill="#ff8080"/>
<rect x="159" y="153" width="1" height="11" fill="#000080"/>
<rect x="157" y="153" width="5" height="5" fill="#000080"/>
<rect x="158" y="154" width="3" height="3" fill="#ff8080"/>
<rect x="165" y="114" width="1" height="25" fill="#000080"/>
<rect x="163" y="118" width="5" height="21" fill="#000080"/>
<rect x="164" y="119" width="3" height="19" fill="#008080"/>
<rect x="172" y="115" width="1" height="18" fill="#000080"/>
<rect x="170" y="118" width="5" height="9" fill="#000080"/>
<rect x="171" y="119" width="3" height="7" fill="#ff8080"/>
<rect x="178" y="121" width="1" height="19" fill="#000080"/>
<rect x="176" y="126" width="5" height="9" fill="#000080"/>
<rect x="177" y="127" width="3" height="7" fill="#ff8080"/>
<rect x="184" y="126" width="1" height="12" fill="#000080"/>
<rect x="182" y="128" width="5" height="6" fill="#000080"/>
<rect x="183" y="129" width="3" height="4" fill="#008080"/>
<rect x="191" y="128" width="1" height="10" fill="#000080"/>
<rect x="189" y="128" width="5" height="10" fill="#000080"/>
<rect x="190" y="129" width="3" height="8" fill="#ff8080"/>
<rect x="197" y="135" width="1" height="11" fill="#000080"/>
<rect x="195" y="137" width="5" height="6" fill="#000080"/>
<rect x="196" y="138" width="3" height="4" fill="#ff8080"/>
<rect x="203" y="118" width="1" height="30" fill="#000080"/>
<rect x="201" y="123" width="5" height="20" fill="#000080"/>
<rect x="202" y="124" width="3" height="18" fill="#008080"/>
<rect x="210" y="115" width="1" height="20" fill="#000080"/>
<rect x="208" y="123" width="5" height="4" fill="#000080"/>
<rect x="209" y="124" width="3" height="2" fill="#ff8080"/>
<rect x="216" y="123" width="1" height="18" fill="#000080"/>
<rect x="214" y="126" width="5" height="13" fill="#000080"/>
<rect x="215" y="127" width="3" height="11" fill="#ff8080"/>
<rect x="222" y="139" width="1" height="32" fill="#000080"/>
<rect x="220" y="139" width="5" height="27" fill="#000080"/>
<rect x="221" y="140" width="3" height="25" fill="#ff8080"/>
<rect x="229" y="148" width="1" height="37" fill="#000080"/>
<rect x="227" y="150" width="5" height="16" fill="#000080"/>
<rect x="228" y="151" width="3" height="14" fill="#008080"/>
<rect x="235" y="145" width="1" height="26" fill="#000080"/>
<rect x="233" y="148" width="5" height="21" fill="#000080"/>
<rect x="234" y="149" width="3" height="19" fill="#ff8080"/>
<rect x="241" y="163" width="1" height="25" fill="#000080"/>
<rect x="239" y="168" width="5" height="17" fill="#000080"/>
<rect x="240" y="169" width="3" height="15" fill="#ff8080"/>
<rect x="248" y="163" width="1" height="23" fill="#000080"/>
<rect x="246" y="167" width="5" height="18" fill="#000080"/>
<rect x="247" y="168" width="3" height="16" fill="#008080"/>
<rect x="254" y="162" width="1" height="12" fill="#000080"/>
<rect x="252" y="166" width="5" height="3" fill="#000080"/>
<rect x="260" y="153" width="1" height="17" fill="#000080"/>
<rect x="258" y="158" width="5" height="11" fill="#000080"/>
<rect x="259" y="159" width="3" height="9" fill="#008080"/>
<rect x="267" y="144" width="1" height="14" fill="#000080"/>
<rect x="265" y="150" width="5" height="8" fill="#000080"/>
<rect x="266" y="151" width="3" height="6" fill="#008080"/>
<rect x="273" y="143" width="1" height="24" fill="#000080"/>
<rect x="271" y="150" width="5" height="11" fill="#000080"/>
<rect x="272" y="151" width="3" height="9" fill="#ff8080"/>
<rect x="279" y="142" width="1" height="29" fill="#000080"/>
<rect x="277" y="148" width="5" height="14" fill="#000080"/>
<rect x="278" y="149" width="3" height="12" fill="#008080"/>
<rect x="286" y="148" width="1" height="33" fill="#000080"/>
<rect x="284" y="149" width="5" height="29" fill="#000080"/>
<rect x="285" y="150" width="3" height="27" fill="#ff8080"/>
<rect x="292" y="177" width="1" height="14" fill="#000080"/>
<rect x="290" y="177" width="5" height="4" fill="#000080"/>
<rect x="291" y="178" width="3" height="2" fill="#ff8080"/>
<rect x="298" y="170" width="1" height="16" fill="#000080"/>
<rect x="296" y="174" width="5" height="7" fill="#000080"/>
<rect x="297" y="175" width="3" height="5" fill="#008080"/>
<rect x="304" y="167" width="1" height="40" fill="#000080"/>
<rect x="302" y="175" width="5" height="32" fill="#000080"/>
<rect x="303" y="176" width="3" height="30" fill="#ff8080"/>
<rect x="311" y="197" width="1" height="20" fill="#000080"/>
<rect x="309" y="206" width="5" height="1" fill="#000080"/>
<rect x="317" y="193" width="1" height="15" fill="#000080"/>
<rect x="315" y="195" width="5" height="13" fill="#000080"/>
<rect x="316" y="196" width="3" height="11" fill="#008080"/>
<rect x="323" y="193" width="1" height="10" fill="#000080"/>
<rect x="321" y="194" width="5" height="4" fill="#000080"/>
<rect x="322" y="195" width="3" height="2" fill="#ff8080"/>
<rect x="330" y="174" width="1" height="26" fill="#000080"/>
<rect x="328" y="187" width="5" height="11" fill="#000080"/>
<rect x="329" y="188" width="3" height="9" fill="#008080"/>
<rect x="336" y="184" width="1" height="30" fill="#000080"/>
<rect x="334" y="187" width="5" height="19" fill="#000080"/>
<rect x="335" y="188" width="3" height="17" fill="#ff8080"/>
<rect x="342" y="197" width="1" height="16" fill="#000080"/>
<rect x="340" y="199" width="5" height="8" fill="#000080"/>
<rect x="341" y="200" width="3" height="6" fill="#008080"/>
<rect x="349" y="156" width="1" height="44" fill="#000080"/>
<rect x="347" y="163" width="5" height="37" fill="#000080"/>
<rect x="348" y="164" width="3" height="35" fill="#008080"/>
<rect x="355" y="157" width="1" height="18" fill="#000080"/>
<rect x="353" y="162" width="5" height="2" fill="#000080"/>
<rect x="361" y="147" width="1" height="22" fill="#000080"/>
<rect x="359" y="152" width="5" height="12" fill="#000080"/>
<rect x="360" y="153" width="3" height="10" fill="#008080"/>
<rect x="368" y="151" width="1" height="19" fill="#000080"/>
<rect x="366" y="153" width="5" height="15" fill="#000080"/>
<rect x="367" y="154" width="3" height="13" fill="#ff8080"/>
<rect x="374" y="205" width="1" height="43" fill="#000080"/>
<rect x="372" y="221" width="5" height="9" fill="#000080"/>
<rect x="373" y="222" width="3" height="7" fill="#ff8080"/>
<rect x="380" y="212" width="1" height="27" fill="#000080"/>
<rect x="378" y="229" width="5" height="3" fill="#000080"/>
<rect x="379" y="230" width="3" height="1" fill="#ff8080"/>
<rect x="387" y="226" width="1" height="28" fill="#000080"/>
<rect x="385" y="231" width="5" height="10" fill="#000080"/>
<rect x="386" y="232" width="3" height="8" fill="#ff8080"/>
<rect x="393" y="230" width="1" height="15" fill="#000080"/>
<rect x="391" y="234" width="5" height="8" fill="#000080"/>
<rect x="392" y="235" width="3" height="6" fill="#008080"/>
<rect x="399" y="231" width="1" height="12" fill="#000080"/>
<rect x="397" y="234" width="5" height="4" fill="#000080"/>
<rect x="398" y="235" width="3" height="2" fill="#ff8080"/>
<rect x="406" y="220" width="1" height="20" fill="#000080"/>
<rect x="404" y="223" width="5" height="15" fill="#000080"/>
<rect x="405" y="224" width="3" height="13" fill="#008080"/>
<rect x="412" y="216" width="1" height="26" fill="#000080"/>
<rect x="410" y="223" width="5" height="14" fill="#000080"/>
<rect x="411" y="224" width="3" height="12" fill="#ff8080"/>
<rect x="418" y="217" width="1" height="21" fill="#000080"/>
<rect x="416" y="222" width="5" height="15" fill="#000080"/>
<rect x="417" y="223" width="3" height="13" fill="#008080"/>
<rect x="424" y="219" width="1" height="30" fill="#000080"/>
<rect x="422" y="223" width="5" height="21" fill="#000080"/>
<rect x="423" y="224" width="3" height="19" fill="#ff8080"/>
<rect x="431" y="235" width="1" height="22" fill="#000080"/>
<rect x="429" y="243" width="5" height="4" fill="#000080"/>
<rect x="430" y="244" width="3" height="2" fill="#ff8080"/>
<rect x="437" y="240" width="1" height="11" fill="#000080"/>
<rect x="435" y="246" width="5" height="3" fill="#000080"/>
<rect x="436" y="247" width="3" height="1" fill="#ff8080"/>
<rect x="443" y="220" width="1" height="18" fill="#000080"/>
<rect x="441" y="223" width="5" height="11" fill="#000080"/>
<rect x="442" y="224" width="3" height="9" fill="#008080"/>
<rect x="450" y="218" width="1" height="14" fill="#000080"/>
<rect x="448" y="221" width="5" height="3" fill="#000080"/>
<rect x="449" y="222" width="3" height="1" fill="#008080"/>
<rect x="456" y="209" width="1" height="14" fill="#000080"/>
<rect x="454" y="212" width="5" height="10" fill="#000080"/>
<rect x="455" y="213" width="3" height="8" fill="#008080"/>
<rect x="462" y="211" width="1" height="11" fill="#000080"/>
<rect x="460" y="212" width="5" height="5" fill="#000080"/>
<rect x="461" y="213" width="3" height="3" fill="#ff8080"/>
<rect x="469" y="216" width="1" height="19" fill="#000080"/>
<rect x="467" y="216" width="5" height="16" fill="#000080"/>
<rect x="468" y="217" width="3" height="14" fill="#ff8080"/>
<rect x="475" y="230" width="1" height="34" fill="#000080"/>
<rect x="473" y="231" width="5" height="31" fill="#000080"/>
<rect x="474" y="232" width="3" height="29" fill="#ff8080"/>
<rect x="481" y="252" width="1" height="63" fill="#000080"/>
<rect x="479" y="260" width="5" height="48" fill="#000080"/>
<rect x="480" y="261" width="3" height="46" fill="#ff8080"/>
<rect x="488" y="295" width="1" height="33" fill="#000080"/>
<rect x="486" y="306" width="5" height="1" fill="#000080"/>
<rect x="494" y="302" width="1" height="32" fill="#000080"/>
<rect x="492" y="306" width="5" height="20" fill="#000080"/>
<rect x="493" y="307" width="3" height="18" fill="#ff8080"/>
<rect x="500" y="320" width="1" height="11" fill="#000080"/>
<rect x="498" y="325" width="5" height="3" fill="#000080"/>
<rect x="499" y="326" width="3" height="1" fill="#ff8080"/>
<rect x="507" y="323" width="1" height="13" fill="#000080"/>
<rect x="505" y="327" width="5" height="5" fill="#000080"/>
<rect x="506" y="328" width="3" height="3" fill="#ff8080"/>
</g>
<rect x="437.5" y="181.5" width="86" height="172" fill="none" stroke="#000" shape-rendering="crispEdges"/>
<g fill="#404040" shape-rendering="crispEdges">
<rect x="543" y="412" width="2" height="1"/>
<rect x="543" y="406" width="2" height="1"/>
<rect x="543" y="399" width="2" height="1"/>
<rect x="543" y="393" width="4" height="1"/>
<rect x="543" y="387" width="2" height="1"/>
<rect x="543" y="380" width="2" height="1"/>
<rect x="543" y="374" width="2" height="1"/>
<rect x="543" y="368" width="4" height="1"/>
<rect x="543" y="361" width="2" height="1"/>
<rect x="543" y="355" width="2" height="1"/>
<rect x="543" y="349" width="2" height="1"/>
<rect x="543" y="342" width="4" height="1"/>
<rect x="543" y="336" width="2" height="1"/>
<rect x="543" y="330" width="2" height="1"/>
<rect x="543" y="324" width="2" height="1"/>
<rect x="543" y="317" width="4" height="1"/>
<rect x="543" y="311" width="2" height="1"/>
<rect x="543" y="305" width="2" height="1"/>
<rect x="543" y="298" width="2" height="1"/>
<rect x="543" y="292" width="4" height="1"/>
<rect x="543" y="286" width="2" height="1"/>
<rect x="543" y="279" width="2" height="1"/>
<rect x="543" y="273" width="2" height="1"/>
<rect x="543" y="267" width="4" height="1"/>
<rect x="543" y="261" width="2" height="1"/>
<rect x="543" y="254" width="2" height="1"/>
<rect x="543" y="248" width="2" height="1"/>
<rect x="543" y="242" width="4" height="1"/>
<rect x="543" y="235" width="2" height="1"/>
<rect x="543" y="229" width="2" height="1"/>
<rect x="543" y="223" width="2" height="1"/>
<rect x="543" y="216" width="4" height="1"/>
<rect x="543" y="210" width="2" height="1"/>
<rect x="543" y="204" width="2" height="1"/>
<rect x="543" y="197" width="2" height="1"/>
<rect x="543" y="191" width="4" height="1"/>
<rect x="543" y="185" width="2" height="1"/>
<rect x="543" y="179" width="2" height="1"/>
<rect x="543" y="172" width="2" height="1"/>
<rect x="543" y="166" width="4" height="1"/>
<rect x="543" y="160" width="2" height="1"/>
<rect x="543" y="153" width="2" height="1"/>
<rect x="543" y="147" width="2" height="1"/>
<rect x="543" y="141" width="4" height="1"/>
<rect x="543" y="134" width="2" height="1"/>
<rect x="543" y="128" width="2" height="1"/>
<rect x="543" y="122" width="2" height="1"/>
<rect x="543" y="115" width="4" height="1"/>
<rect x="543" y="109" width="2" height="1"/>
<rect x="543" y="103" width="2" height="1"/>
<rect x="543" y="97" width="2" height="1"/>
<rect x="543" y="90" width="4" height="1"/>
<rect x="543" y="84" width="2" height="1"/>
<rect x="543" y="78" width="2" height="1"/>
<rect x="543" y="71" width="2" height="1"/>
<rect x="543" y="65" width="4" height="1"/>
<rect x="543" y="59" width="2" height="1"/>
<rect x="543" y="52" width="2" height="1"/>
<rect x="543" y="46" width="2" height="1"/>
<rect x="543" y="40" width="2" height="1"/>
<rect x="543" y="34" width="2" height="1"/>
<rect x="543" y="27" width="2" height="1"/>
</g>
<g fill="#000" stroke="#000">
<text x="548.5" y="398" textLength="24" lengthAdjust="spacingAndGlyphs">4740</text>
<text x="548.5" y="373" textLength="24" lengthAdjust="spacingAndGlyphs">4760</text>
<text x="548.5" y="347" textLength="24" lengthAdjust="spacingAndGlyphs">4780</text>
<text x="548.5" y="322" textLength="24" lengthAdjust="spacingAndGlyphs">4800</text>
<text x="548.5" y="297" textLength="24" lengthAdjust="spacingAndGlyphs">4820</text>
<text x="548.5" y="272" textLength="24" lengthAdjust="spacingAndGlyphs">4840</text>
<text x="548.5" y="247" textLength="24" lengthAdjust="spacingAndGlyphs">4860</text>
<text x="548.5" y="221" textLength="24" lengthAdjust="spacingAndGlyphs">4880</text>
<text x="548.5" y="196" textLength="24" lengthAdjust="spacingAndGlyphs">4900</text>
<text x="548.5" y="171" textLength="24" lengthAdjust="spacingAndGlyphs">4920</text>
<text x="548.5" y="146" textLength="24" lengthAdjust="spacingAndGlyphs">4940</text>
<text x="548.5" y="120" textLength="24" lengthAdjust="spacingAndGlyphs">4960</text>
<text x="548.5" y="95" textLength="24" lengthAdjust="spacingAndGlyphs">4980</text>
<text x="548.5" y="70" textLength="24" lengthAdjust="spacingAndGlyphs">5000</text>
</g>
<text x="544.3" y="21" fill="#000080" stroke="#000080" textLength="20.5" lengthAdjust="spacingAndGlyphs">EUR</text>
<g fill="#404040" shape-rendering="crispEdges">
<rect x="27" y="419" width="1" height="5"/>
<rect x="96" y="419" width="1" height="5"/>
<rect x="165" y="419" width="1" height="5"/>
<rect x="235" y="419" width="1" height="5"/>
<rect x="304" y="419" width="1" height="5"/>
<rect x="374" y="419" width="1" height="5"/>
<rect x="443" y="419" width="1" height="5"/>
<rect x="494" y="419" width="1" height="5"/>
<rect x="39" y="419" width="1" height="2"/>
<rect x="64" y="419" width="1" height="2"/>
<rect x="77" y="419" width="1" height="2"/>
<rect x="90" y="419" width="1" height="2"/>
<rect x="109" y="419" width="1" height="2"/>
<rect x="134" y="419" width="1" height="2"/>
<rect x="147" y="419" width="1" height="2"/>
<rect x="159" y="419" width="1" height="2"/>
<rect x="178" y="419" width="1" height="2"/>
<rect x="203" y="419" width="1" height="2"/>
<rect x="216" y="419" width="1" height="2"/>
<rect x="228" y="419" width="1" height="2"/>
<rect x="247" y="419" width="1" height="2"/>
<rect x="273" y="419" width="1" height="2"/>
<rect x="285" y="419" width="1" height="2"/>
<rect x="298" y="419" width="1" height="2"/>
<rect x="317" y="419" width="1" height="2"/>
<rect x="342" y="419" width="1" height="2"/>
<rect x="355" y="419" width="1" height="2"/>
<rect x="367" y="419" width="1" height="2"/>
<rect x="387" y="419" width="1" height="2"/>
<rect x="412" y="419" width="1" height="2"/>
<rect x="424" y="419" width="1" height="2"/>
<rect x="437" y="419" width="1" height="2"/>
<rect x="456" y="419" width="1" height="2"/>
<rect x="481" y="419" width="1" height="2"/>
<rect x="507" y="419" width="1" height="2"/>
</g>
<g fill="#000" stroke="#000">
<text x="26.7" y="437" textLength="27.5" lengthAdjust="spacingAndGlyphs">10:00</text>
<text x="96.60000000000001" y="437" textLength="14" lengthAdjust="spacingAndGlyphs">19.</text>
<text x="164.7" y="437" textLength="14" lengthAdjust="spacingAndGlyphs">22.</text>
<text x="234.7" y="437" textLength="14" lengthAdjust="spacingAndGlyphs">23.</text>
<text x="303.7" y="437" textLength="14" lengthAdjust="spacingAndGlyphs">24.</text>
<text x="373.7" y="437" textLength="14" lengthAdjust="spacingAndGlyphs">25.</text>
<text x="442.7" y="437" textLength="14" lengthAdjust="spacingAndGlyphs">26.</text>
<text x="493.7" y="437" textLength="27.5" lengthAdjust="spacingAndGlyphs">18:00</text>
</g>
<text x="39.4" y="21" fill="#000080" stroke="#000080" textLength="21.7" lengthAdjust="spacingAndGlyphs">DAX</text>
<text x="63.2" y="21" fill="#000080" stroke="#000080" textLength="43.9" lengthAdjust="spacingAndGlyphs">FUTURES</text>
<text x="110.7" y="21" fill="#000080" stroke="#000080" textLength="34.6" lengthAdjust="spacingAndGlyphs">(FDAX)</text>
<text x="148.1" y="21" fill="#000080" stroke="#000080" textLength="35.8" lengthAdjust="spacingAndGlyphs">,FDXc1,</text>
<text x="189.1" y="21" fill="#000080" stroke="#000080" textLength="4.8" lengthAdjust="spacingAndGlyphs">1</text>
<text x="196.9" y="21" fill="#000080" stroke="#000080" textLength="34.5" lengthAdjust="spacingAndGlyphs">Stunde</text>
<text x="234.4" y="21" fill="#000080" stroke="#000080" textLength="4.9" lengthAdjust="spacingAndGlyphs">-</text>
<text x="242.4" y="21" fill="#000080" stroke="#000080" textLength="54.9" lengthAdjust="spacingAndGlyphs">18.08.2005</text>
<text x="301.4" y="21" fill="#000080" stroke="#000080" textLength="42.9" lengthAdjust="spacingAndGlyphs">10:00:00</text>
<text x="346.9" y="21" fill="#000080" stroke="#000080" textLength="5.0" lengthAdjust="spacingAndGlyphs">-</text>
<text x="354.4" y="21" fill="#000080" stroke="#000080" textLength="55.9" lengthAdjust="spacingAndGlyphs">26.08.2005</text>
<text x="413.6" y="21" fill="#000080" stroke="#000080" textLength="43.3" lengthAdjust="spacingAndGlyphs">20:00:00</text>
<text x="460.2" y="21" fill="#000080" stroke="#000080" textLength="4.6" lengthAdjust="spacingAndGlyphs">-</text>
<text x="467.7" y="21" fill="#000080" stroke="#000080" textLength="23.7" lengthAdjust="spacingAndGlyphs">4789</text>
<text x="39.4" y="34" fill="#808000" stroke="#808000" textLength="19.5" lengthAdjust="spacingAndGlyphs">BBD</text>
<text x="61.1" y="34" fill="#808000" stroke="#808000" textLength="34.2" lengthAdjust="spacingAndGlyphs">[Close,</text>
<text x="97.7" y="34" fill="#808000" stroke="#808000" textLength="15.9" lengthAdjust="spacingAndGlyphs">20,</text>
<text x="116.9" y="34" fill="#808000" stroke="#808000" textLength="33.4" lengthAdjust="spacingAndGlyphs">2.618]</text>
<text x="152.4" y="34" fill="#808000" stroke="#808000" textLength="33.2" lengthAdjust="spacingAndGlyphs">Moving</text>
<text x="189.1" y="34" fill="#808000" stroke="#808000" textLength="91.2" lengthAdjust="spacingAndGlyphs">Average:4849.925</text>
<text x="283.6" y="34" fill="#000" stroke="#000" textLength="28.7" lengthAdjust="spacingAndGlyphs">Upper</text>
<text x="315.2" y="34" fill="#000" stroke="#000" textLength="91.2" lengthAdjust="spacingAndGlyphs">Band:4932.322651</text>
<text x="410.2" y="34" fill="#000" stroke="#000" textLength="28.7" lengthAdjust="spacingAndGlyphs">Lower</text>
<text x="442.4" y="34" fill="#000" stroke="#000" textLength="92.4" lengthAdjust="spacingAndGlyphs">Band:4767.527349</text>
<text x="39.4" y="47" fill="#808000" stroke="#808000" textLength="33.8" lengthAdjust="spacingAndGlyphs">BBD(2)</text>
<text x="75.2" y="47" fill="#808000" stroke="#808000" textLength="34.2" lengthAdjust="spacingAndGlyphs">[Close,</text>
<text x="113.1" y="47" fill="#808000" stroke="#808000" textLength="15.5" lengthAdjust="spacingAndGlyphs">20,</text>
<text x="132.4" y="47" fill="#808000" stroke="#808000" textLength="9.0" lengthAdjust="spacingAndGlyphs">1]</text>
<text x="143.6" y="47" fill="#808000" stroke="#808000" textLength="33.7" lengthAdjust="spacingAndGlyphs">Moving</text>
<text x="180.7" y="47" fill="#808000" stroke="#808000" textLength="91.6" lengthAdjust="spacingAndGlyphs">Average:4849.925</text>
<text x="275.2" y="47" fill="#0000ff" stroke="#0000ff" textLength="29.1" lengthAdjust="spacingAndGlyphs">Upper</text>
<text x="307.4" y="47" fill="#0000ff" stroke="#0000ff" textLength="91.2" lengthAdjust="spacingAndGlyphs">Band:4881.398511</text>
<text x="401.9" y="47" fill="#0000ff" stroke="#0000ff" textLength="28.7" lengthAdjust="spacingAndGlyphs">Lower</text>
<text x="434.1" y="47" fill="#0000ff" stroke="#0000ff" textLength="92.3" lengthAdjust="spacingAndGlyphs">Band:4818.451489</text>
<text x="25.5" y="61.8" fill="#000" stroke="#000" style="font-size:13px" textLength="10" lengthAdjust="spacingAndGlyphs">©</text>
<text x="38.6" y="60" fill="#000" stroke="#000" textLength="103.7" lengthAdjust="spacingAndGlyphs">www.tradesignal.com</text>
<g shape-rendering="crispEdges">
<rect x="31" y="11" width="1" height="10" fill="#000080"/><rect x="28" y="13" width="7" height="6" fill="#000080"/><rect x="29" y="14" width="5" height="4" fill="#008080"/>
</g>
<g fill="#808000" shape-rendering="crispEdges"><rect x="26" y="24" width="1" height="1"/><rect x="26" y="25" width="1" height="1"/><rect x="26" y="33" width="1" height="1"/><rect x="26" y="34" width="1" height="1"/><rect x="27" y="26" width="1" height="1"/><rect x="27" y="27" width="1" height="1"/><rect x="27" y="31" width="1" height="1"/><rect x="27" y="32" width="1" height="1"/><rect x="28" y="28" width="1" height="1"/><rect x="28" y="29" width="1" height="1"/><rect x="28" y="30" width="1" height="1"/><rect x="29" y="27" width="1" height="1"/><rect x="29" y="28" width="1" height="1"/><rect x="29" y="30" width="1" height="1"/><rect x="29" y="31" width="1" height="1"/><rect x="30" y="25" width="1" height="1"/><rect x="30" y="26" width="1" height="1"/><rect x="30" y="32" width="1" height="1"/><rect x="30" y="33" width="1" height="1"/><rect x="31" y="24" width="1" height="1"/><rect x="31" y="25" width="1" height="1"/><rect x="31" y="33" width="1" height="1"/><rect x="31" y="34" width="1" height="1"/><rect x="32" y="26" width="1" height="1"/><rect x="32" y="27" width="1" height="1"/><rect x="32" y="31" width="1" height="1"/><rect x="32" y="32" width="1" height="1"/><rect x="33" y="28" width="1" height="1"/><rect x="33" y="29" width="1" height="1"/><rect x="33" y="30" width="1" height="1"/><rect x="34" y="27" width="1" height="1"/><rect x="34" y="28" width="1" height="1"/><rect x="34" y="30" width="1" height="1"/><rect x="34" y="31" width="1" height="1"/><rect x="35" y="25" width="1" height="1"/><rect x="35" y="26" width="1" height="1"/><rect x="35" y="32" width="1" height="1"/><rect x="35" y="33" width="1" height="1"/><rect x="36" y="24" width="1" height="1"/><rect x="36" y="34" width="1" height="1"/></g>
<g fill="#808000" shape-rendering="crispEdges"><rect x="26" y="37" width="1" height="1"/><rect x="26" y="38" width="1" height="1"/><rect x="26" y="46" width="1" height="1"/><rect x="26" y="47" width="1" height="1"/><rect x="27" y="39" width="1" height="1"/><rect x="27" y="40" width="1" height="1"/><rect x="27" y="44" width="1" height="1"/><rect x="27" y="45" width="1" height="1"/><rect x="28" y="41" width="1" height="1"/><rect x="28" y="42" width="1" height="1"/><rect x="28" y="43" width="1" height="1"/><rect x="29" y="40" width="1" height="1"/><rect x="29" y="41" width="1" height="1"/><rect x="29" y="43" width="1" height="1"/><rect x="29" y="44" width="1" height="1"/><rect x="30" y="38" width="1" height="1"/><rect x="30" y="39" width="1" height="1"/><rect x="30" y="45" width="1" height="1"/><rect x="30" y="46" width="1" height="1"/><rect x="31" y="37" width="1" height="1"/><rect x="31" y="38" width="1" height="1"/><rect x="31" y="46" width="1" height="1"/><rect x="31" y="47" width="1" height="1"/><rect x="32" y="39" width="1" height="1"/><rect x="32" y="40" width="1" height="1"/><rect x="32" y="44" width="1" height="1"/><rect x="32" y="45" width="1" height="1"/><rect x="33" y="41" width="1" height="1"/><rect x="33" y="42" width="1" height="1"/><rect x="33" y="43" width="1" height="1"/><rect x="34" y="40" width="1" height="1"/><rect x="34" y="41" width="1" height="1"/><rect x="34" y="43" width="1" height="1"/><rect x="34" y="44" width="1" height="1"/><rect x="35" y="38" width="1" height="1"/><rect x="35" y="39" width="1" height="1"/><rect x="35" y="45" width="1" height="1"/><rect x="35" y="46" width="1" height="1"/><rect x="36" y="37" width="1" height="1"/><rect x="36" y="47" width="1" height="1"/></g>
</svg>
</body></html>
